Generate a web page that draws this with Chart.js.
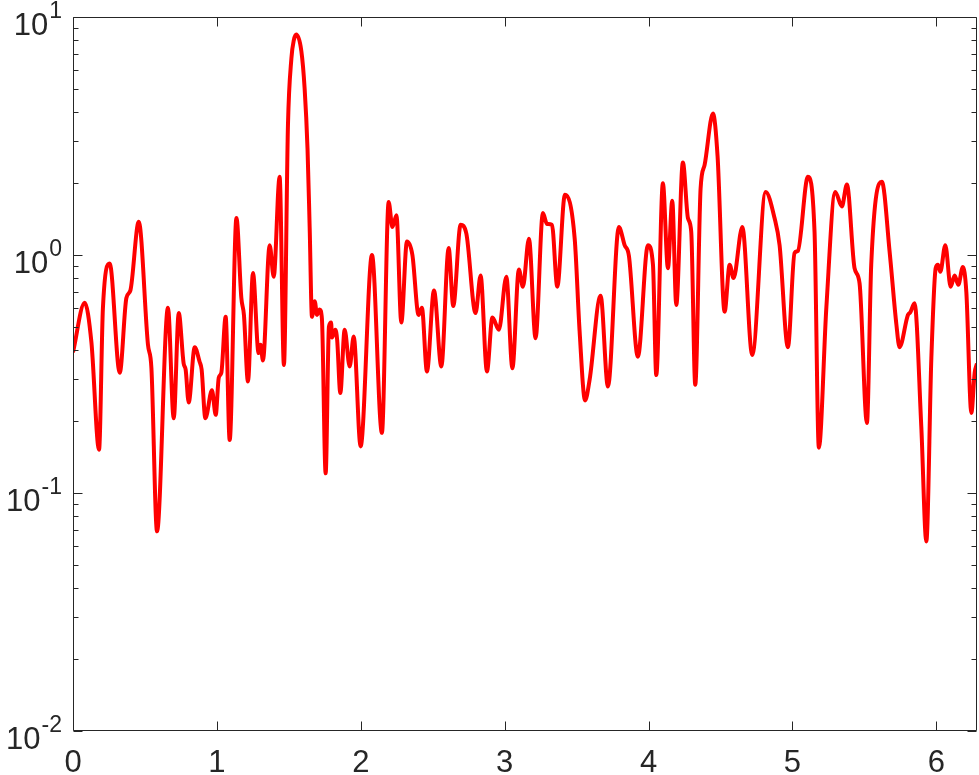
<!DOCTYPE html>
<html>
<head>
<meta charset="utf-8">
<script src="https://cdn.jsdelivr.net/npm/chart.js@4/dist/chart.umd.min.js"></script>
<style>
  html, body { margin: 0; padding: 0; background: #fff; }
</style>
</head>
<body>
<canvas id="spectrum" width="979" height="775"></canvas>
<script>
// values
const xValues = [
  0, 0.081, 0.128, 0.181, 0.208, 0.255, 0.325, 0.371, 0.399, 0.457,
  0.521, 0.545, 0.584, 0.660, 0.700, 0.735, 0.769, 0.783, 0.804, 0.846,
  0.880, 0.894, 0.920, 0.966, 0.992, 1.013, 1.031, 1.061, 1.089, 1.136,
  1.170, 1.188, 1.216, 1.251, 1.290, 1.304, 1.320, 1.367, 1.395, 1.436,
  1.466, 1.494, 1.518, 1.535, 1.552, 1.587, 1.610, 1.630, 1.645,
  1.661, 1.680, 1.696,
  1.714, 1.730, 1.756, 1.779, 1.794, 1.800, 1.823, 1.836, 1.858, 1.888,
  1.923, 1.951, 1.999, 2.078, 2.147, 2.194, 2.220, 2.248, 2.282, 2.321,
  2.359, 2.402, 2.425, 2.460, 2.509, 2.560, 2.611, 2.643, 2.694, 2.734,
  2.798, 2.833, 2.877, 2.915, 2.960, 3.012, 3.054, 3.099, 3.127, 3.169,
  3.215, 3.266, 3.294, 3.329, 3.366, 3.419, 3.487, 3.521, 3.559, 3.591,
  3.667, 3.718, 3.794, 3.834, 3.864, 3.926, 3.996, 4.031, 4.054, 4.100,
  4.135, 4.165, 4.193, 4.239, 4.274, 4.297, 4.325, 4.362, 4.390, 4.448,
  4.480, 4.529, 4.564, 4.591, 4.652, 4.721, 4.814, 4.876, 4.911, 4.969,
  5.015, 5.038, 5.108, 5.154, 5.184, 5.236, 5.298, 5.344, 5.379, 5.432,
  5.467, 5.518, 5.548, 5.622, 5.676, 5.723, 5.745, 5.803, 5.820, 5.849,
  5.896, 5.931, 5.966, 5.996, 6.012, 6.028, 6.063, 6.100, 6.128, 6.153,
  6.185, 6.209, 6.244, 6.267, 6.283
];
const yValues = [
  0.39, 0.63, 0.43, 0.152, 0.60, 0.92, 0.32, 0.66, 0.71, 1.38,
  0.42, 0.335, 0.069, 0.60, 0.206, 0.57, 0.35, 0.33, 0.24, 0.41,
  0.356, 0.33, 0.206, 0.27, 0.213, 0.305, 0.32, 0.55, 0.167, 1.43,
  0.66, 0.56, 0.294, 0.84, 0.387, 0.42, 0.36, 1.10, 0.81, 2.13,
  0.345, 3.5, 6.7, 8.0, 8.44, 7.2, 5.0, 2.8, 1.3,
  0.55, 0.64, 0.56,
  0.59, 0.54, 0.121, 0.5, 0.52, 0.45, 0.485, 0.44, 0.263, 0.485,
  0.34, 0.454, 0.157, 1.0, 0.179, 1.67, 1.31, 1.47, 0.52, 1.14,
  1.0, 0.56, 0.60, 0.324, 0.71, 0.34, 1.07, 0.61, 1.34, 1.23,
  0.57, 0.82, 0.324, 0.546, 0.485, 0.81, 0.334, 0.87, 0.736, 1.17,
  0.447, 1.50, 1.35, 1.34, 0.736, 1.79, 1.17, 0.48, 0.245, 0.3,
  0.675, 0.28, 1.31, 1.10, 0.99, 0.374, 1.10, 0.91, 0.313, 2.0,
  0.88, 1.69, 0.617, 2.45, 1.43, 1.25, 0.285, 1.9, 2.39, 3.93,
  2.6, 0.578, 0.91, 0.80, 1.31, 0.38, 1.84, 1.43, 1.10, 0.41,
  1.02, 1.04, 2.13, 1.25, 0.155, 0.6, 1.84, 1.6, 1.98, 0.88,
  0.76, 0.197, 0.91, 2.03, 1.03, 0.51, 0.41, 0.56, 0.575, 0.627,
  0.19, 0.0626, 0.37, 0.88, 0.91, 0.85, 1.10, 0.736, 0.82, 0.75,
  0.89, 0.70, 0.217, 0.32, 0.35
];
const xTicks = [0, 1, 2, 3, 4, 5, 6];
const yExponents = [-2, -1, 0, 1];

const axisColor = "#262626";
const fontFamily = "'Liberation Sans', Arial, Helvetica, sans-serif";

// MATLAB-like box: inward ticks on all sides, labels as 10^n
const matlabAxes = {
  id: "matlabAxes",
  afterDraw(chart) {
    const { ctx, chartArea: a, scales } = chart;
    const sx = scales.x, sy = scales.y;
    const L = Math.round(a.left) + 0.5, R = Math.round(a.right) - 0.5;
    const T = Math.round(a.top) + 0.5, B = Math.round(a.bottom) - 0.5;
    ctx.save();
    ctx.strokeStyle = axisColor;
    ctx.lineWidth = 1;
    ctx.beginPath();
    ctx.rect(L, T, R - L, B - T);

    xTicks.forEach(v => {
      const px = Math.round(sx.getPixelForValue(v)) + 0.5;
      ctx.moveTo(px, B); ctx.lineTo(px, B - 9);
      ctx.moveTo(px, T); ctx.lineTo(px, T + 9);
    });

    yExponents.forEach(e => {
      for (let m = 1; m <= 9; m++) {
        const v = m * Math.pow(10, e);
        if (v > sy.max * 1.0001) break;
        const py = Math.round(sy.getPixelForValue(v)) + 0.5;
        const len = m === 1 ? 9 : 5;
        ctx.moveTo(L, py); ctx.lineTo(L + len, py);
        ctx.moveTo(R, py); ctx.lineTo(R - len, py);
      }
    });
    ctx.stroke();

    ctx.fillStyle = axisColor;
    ctx.font = "31px " + fontFamily;
    ctx.textAlign = "center";
    ctx.textBaseline = "alphabetic";
    xTicks.forEach(v => {
      ctx.fillText(String(v), sx.getPixelForValue(v), a.bottom + 41);
    });

    const rightEdge = a.left - 11;
    yExponents.forEach(e => {
      const py = sy.getPixelForValue(Math.pow(10, e));
      const exp = String(e);
      ctx.font = "23px " + fontFamily;
      ctx.textAlign = "right";
      ctx.fillText(exp, rightEdge, py + 1);
      const ew = ctx.measureText(exp).width;
      ctx.font = "31px " + fontFamily;
      ctx.fillText("10", rightEdge - ew - 1, py + 18);
    });
    ctx.restore();
  }
};

const points = xValues.map((x, i) => ({ x: x, y: yValues[i] }));

new Chart(document.getElementById("spectrum"), {
  type: "line",
  data: {
    datasets: [
      {
        data: points,
        borderColor: "#ff0000",
        borderWidth: 4,
        pointRadius: 0,
        fill: false,
        cubicInterpolationMode: "monotone",
      },
    ],
  },
  options: {
    responsive: false,
    animation: false,
    layout: { padding: { left: 73, top: 17, right: 2, bottom: 44 } },
    plugins: {
      legend: { display: false },
      tooltip: { enabled: false },
    },
    scales: {
      x: { type: "linear", min: 0, max: 2 * Math.PI, display: false },
      y: { type: "logarithmic", min: 0.01, max: 10, display: false },
    },
  },
  plugins: [matlabAxes],
});
</script>
</body>
</html>
